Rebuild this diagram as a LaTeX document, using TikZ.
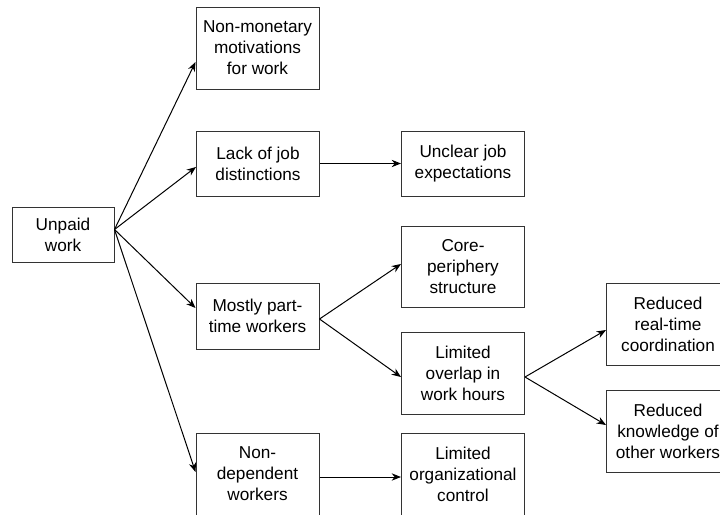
\documentclass[tikz,border=0pt]{standalone}
\usepackage{fontspec}
\setmainfont{Liberation Sans}
\usetikzlibrary{arrows.meta}
\tikzset{>={Stealth[length=7pt,width=5.5pt]}}
\tikzset{
  box/.style={draw=black!80, line width=0.75pt, align=center, inner sep=0pt,
    minimum width=92.25pt, minimum height=61.5pt,
    font=\fontsize{12.9}{15.75}\selectfont},
  link/.style={->, line width=0.75pt}
}

\begin{document}
\begin{tikzpicture}[x=0.75pt,y=-0.75pt]
    \useasboundingbox (0,0) rectangle (720,514);
    \clip (0,0) rectangle (720,514);
    \node[box,minimum width=76.5pt,minimum height=41.25pt] (unpaid) at (63,234.5) {Unpaid\\work};
    \node[box] (nonmon) at (257.5,48) {Non-monetary\\motivations\\for work};
    \node[box,minimum height=48.75pt] (lack) at (258,163.5) {Lack of job\\distinctions};
    \node[box,minimum height=49.5pt] (parttime) at (257.5,316) {Mostly part-\\time workers};
    \node[box] (nondep) at (257.5,474) {Non-\\dependent\\workers};
    \node[box,minimum height=48.75pt] (unclear) at (463,163.5) {Unclear job\\expectations};
    \node[box,minimum height=60.75pt] (core) at (463,266.5) {Core-\\periphery\\structure};
    \node[box] (overlap) at (463,373) {Limited\\overlap in\\work hours};
    \node[box] (orgctrl) at (463,474) {Limited\\organizational\\control};
    \node[box] (realtime) at (668,324) {Reduced\\real-time\\coordination};
    \node[box] (knowledge) at (668,431) {Reduced\\knowledge of\\other workers};
    % from unpaid work
    \draw[link] ([yshift=3.75pt]unpaid.east) -- ([yshift=-10.5pt]nonmon.west);
    \draw[link] ([yshift=3.75pt]unpaid.east) -- ([yshift=-2.6pt]lack.west);
    \draw[link] ([yshift=3.75pt]unpaid.east) -- ([yshift=6pt]parttime.west);
    \draw[link] ([yshift=3.75pt]unpaid.east) -- ([yshift=1.5pt]nondep.west);
    % second level
    \draw[link] (lack.east) -- (unclear.west);
    \draw[link] ([yshift=-2.25pt]parttime.east) -- ([yshift=1.9pt]core.west);
    \draw[link] ([yshift=-2.25pt]parttime.east) -- ([yshift=-3pt]overlap.west);
    \draw[link] ([yshift=-2.25pt]nondep.east) -- ([yshift=-2.25pt]orgctrl.west);
    \draw[link] ([yshift=-3pt]overlap.east) -- ([yshift=-4.5pt]realtime.west);
    \draw[link] ([yshift=-3pt]overlap.east) -- ([yshift=4.5pt]knowledge.west);
  \end{tikzpicture}
\end{document}
